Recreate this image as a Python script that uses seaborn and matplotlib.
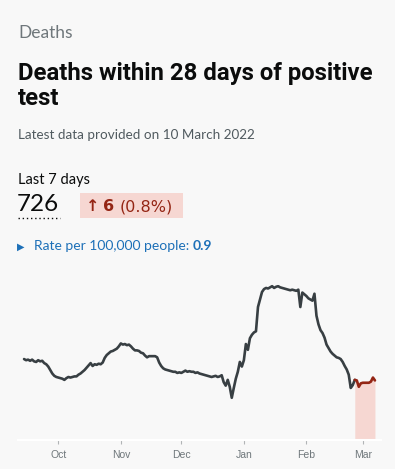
import pandas as pd
import numpy as np
import seaborn as sns
from matplotlib import pyplot as plt
from matplotlib.patches import Rectangle

# daily deaths (7-day average), 14 Sep 2021 -> 7 Mar 2022
deaths = [
    140, 138, 139, 137, 139, 136, 135, 138, 136, 137,   # Sep 14-23
    133, 131, 127, 121, 115, 111, 109,                  # Sep 24-30
    108, 107, 106, 104, 107, 109, 108, 109, 110, 110,   # Oct 1-10
    113, 115, 118, 121, 125, 129, 133, 128, 131, 130,   # Oct 11-20
    132, 131, 134, 142, 147, 150, 153, 154, 156, 158, 162,  # Oct 21-31
    167, 165, 166, 164, 165, 162, 158, 155, 155, 154,   # Nov 1-10
    151, 150, 146, 143, 145, 145, 145, 145, 143, 134,   # Nov 11-20
    128, 124, 122, 121, 120, 119, 118, 118, 116, 117,   # Nov 21-30
    116, 118, 120, 118, 119, 118, 118, 116, 117, 115,   # Dec 1-10
    114, 113, 112, 111, 110, 109, 110, 111, 109, 110,   # Dec 11-20
    112, 100, 94, 104, 92, 73, 90, 106, 118, 135, 127,  # Dec 21-31
    138, 166, 156, 176, 182, 186, 188, 230, 243, 256,   # Jan 1-10
    261, 263, 262, 264, 266, 263, 265, 266, 264, 263,   # Jan 11-20
    262, 261, 260, 259, 260, 259, 258, 260, 230, 255, 252,  # Jan 21-31
    249, 245, 243, 241, 253, 215, 200, 190, 185, 177,   # Feb 1-10
    165, 159, 153, 149, 146, 143, 142, 140, 135, 128,   # Feb 11-20
    122, 113, 90, 95, 104, 103, 92, 98,                 # Feb 21-28
    99, 99, 99, 99, 101, 108, 103,                      # Mar 1-7
]
start_date = '2021-09-14'
recent_start = '2022-02-25'   # highlighted recent period

title_lines = ["Deaths within 28 days of positive", "test"]
section = "Deaths"
updated = "Latest data provided on 10 March 2022"
last7_label = "Last 7 days"
last7_value = "726"
change_value = "6"
change_pct = "(0.8%)"
rate_label = "Rate per 100,000 people:"
rate_value = "0.9"
month_ticks = ['2021-10-01', '2021-11-01', '2021-12-01', '2022-01-01', '2022-02-01', '2022-03-01']
month_labels = ['Oct', 'Nov', 'Dec', 'Jan', 'Feb', 'Mar']

df = pd.DataFrame({'date': pd.date_range(start_date, periods=len(deaths), freq='D'),
                   'deaths': deaths})
older = df[df['date'] <= pd.Timestamp(recent_start)]
recent = df[df['date'] >= pd.Timestamp(recent_start)]

bg = '#f8f8f8'
W, H = 395, 469
sns.set_theme(style='white')
plt.rcParams['font.family'] = ['Lato', 'DejaVu Sans']

fig = plt.figure(figsize=(W / 100, H / 100), dpi=100, facecolor=bg)

def px(x, y):
    return x / W, 1 - y / H

# header text
fig.text(*px(18, 38), section, fontsize=12.5, color='#6f777b', va='baseline')
fig.text(*px(18, 80), title_lines[0], fontsize=17.2, fontweight='bold', color='#0b0c0c',
         va='baseline', family=['Roboto'])
fig.text(*px(18, 105), title_lines[1], fontsize=17.2, fontweight='bold', color='#0b0c0c',
         va='baseline', family=['Roboto'])
fig.text(*px(18, 139), updated, fontsize=9.7, color='#505a5f', va='baseline')
fig.text(*px(18, 184), last7_label, fontsize=10.5, color='#0b0c0c', va='baseline')
fig.text(*px(17, 211), last7_value, fontsize=17.5, color='#0b0c0c', va='baseline')
fig.lines.append(plt.Line2D([18 / W, 60 / W], [1 - 218 / H] * 2, transform=fig.transFigure,
                            color='#0b0c0c', lw=1, ls=(0, (1, 2))))

# change badge
fig.patches.append(Rectangle(px(80, 218), 103 / W, 25 / H, transform=fig.transFigure,
                             facecolor='#f6d7d2', edgecolor='none'))
fig.text(*px(86, 211), '\u2191', fontsize=11.5, fontweight='bold', color='#942514',
         va='baseline', family=['DejaVu Sans'])
fig.text(*px(103, 211), change_value, fontsize=11.5, fontweight='bold', color='#942514',
         va='baseline', family=['DejaVu Sans'])
fig.text(*px(120, 211), change_pct, fontsize=11.5, color='#942514', va='baseline',
         family=['DejaVu Sans'])

# rate line
fig.text(*px(17, 250), '\u25b6', fontsize=7, color='#1d70b8', va='baseline', family=['DejaVu Sans'])
fig.text(*px(34, 250), rate_label, fontsize=10, color='#1d70b8', va='baseline')
fig.text(*px(193, 250), rate_value, fontsize=10, fontweight='bold', color='#1d70b8', va='baseline')

# chart
ax = fig.add_axes([18 / W, 29 / H, 363 / W, 159 / H])
ax.set_facecolor(bg)
ax.fill_between(recent['date'], 0, recent['deaths'], color='#f6d7d2', lw=0, zorder=1)
sns.lineplot(data=older, x='date', y='deaths', ax=ax, color='#383f43', lw=1.9, zorder=3)
sns.lineplot(data=recent, x='date', y='deaths', ax=ax, color='#942514', lw=1.9, zorder=4)

ax.set_xlim(pd.Timestamp('2021-09-11'), pd.Timestamp('2022-03-10'))
ax.set_ylim(0, 275)
ax.set_xticks(pd.to_datetime(month_ticks), month_labels)
ax.set_yticks([])
ax.set_xlabel('')
ax.set_ylabel('')
for s in ['top', 'left', 'right']:
    ax.spines[s].set_visible(False)
ax.spines['bottom'].set_color('white')
ax.spines['bottom'].set_linewidth(1.5)
ax.tick_params(axis='x', length=3, width=0.8, color='#b1b4b6', labelsize=7.5,
               labelcolor='#6f777b', pad=4, bottom=True)
for lbl in ax.get_xticklabels():
    lbl.set_family(['Liberation Sans'])

plt.savefig('out.png', dpi=100, facecolor=bg)
